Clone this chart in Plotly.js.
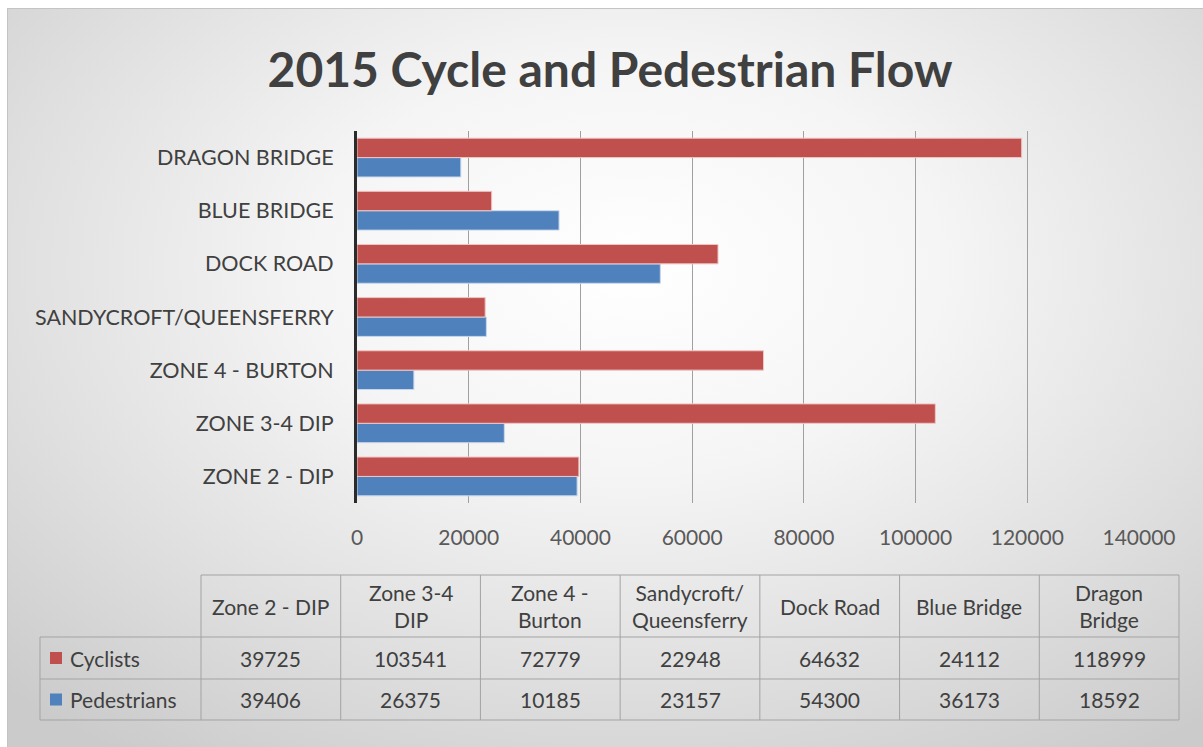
<!DOCTYPE html>
<html>
<head>
<meta charset="utf-8">
<script src="https://cdn.plot.ly/plotly-3.0.1.min.js"></script>
<style>
  html, body { margin:0; padding:0; background:#ffffff; }
  #frame { position:absolute; left:7px; top:8px; width:1196px; height:739px;
    background: radial-gradient(ellipse 75% 80% at 52% 35%, #ffffff 0%, #f5f5f5 35%, #dfdfdf 70%, #cbcbcb 100%);
    border-top:1px solid #c4c4c4; border-left:1px solid #c4c4c4; box-sizing:border-box; }
  #chart { position:absolute; left:0; top:0; width:1203px; height:747px; }
</style>
</head>
<body>
<div id="frame"></div>
<div id="chart"></div>
<script>
// ---- data ----
const categories = ["ZONE 2 - DIP", "ZONE 3-4 DIP", "ZONE 4 - BURTON", "SANDYCROFT/QUEENSFERRY", "DOCK ROAD", "BLUE BRIDGE", "DRAGON BRIDGE"];
const tableHeaders = ["Zone 2 - DIP", "Zone 3-4<br>DIP", "Zone 4 -<br>Burton", "Sandycroft/<br>Queensferry", "Dock Road", "Blue Bridge", "Dragon<br>Bridge"];
const seriesNames = ["Cyclists", "Pedestrians"];
const cyclists = [39725, 103541, 72779, 22948, 64632, 24112, 118999];
const pedestrians = [39406, 26375, 10185, 23157, 54300, 36173, 18592];
const xTicks = [0, 20000, 40000, 60000, 80000, 100000, 120000, 140000];

// ---- style ----
const W = 1203, H = 747;
const RED = "#c0504d", BLUE = "#4f81bd";
const FONT = "Lato, 'Open Sans', sans-serif";
const px = x => x / W;
const py = y => 1 - y / H;

const traces = [
  { type: "bar", orientation: "h", name: seriesNames[1], y: categories, x: pedestrians,
    marker: { color: BLUE, line: { color: "#c9d8ec", width: 1 } }, hoverinfo: "x+y" },
  { type: "bar", orientation: "h", name: seriesNames[0], y: categories, x: cyclists,
    marker: { color: RED, line: { color: "#efc7c6", width: 1 } }, hoverinfo: "x+y" }
];

// table geometry
const tX0 = 201, tX1 = 1179, legX0 = 40;
const yHeadTop = 575, yRow1 = 637, yRow2 = 679, yBot = 720;
const colW = (tX1 - tX0) / tableHeaders.length;
const lineStyle = { color: "#a3a3a3", width: 1 };

const shapes = [];
shapes.push({ type: "line", xref: "paper", yref: "paper", x0: px(tX0), x1: px(tX1), y0: py(yHeadTop), y1: py(yHeadTop), line: lineStyle });
[yRow1, yRow2, yBot].forEach(y => shapes.push({ type: "line", xref: "paper", yref: "paper", x0: px(legX0), x1: px(tX1), y0: py(y), y1: py(y), line: lineStyle }));
for (let i = 0; i <= tableHeaders.length; i++) {
  const x = tX0 + i * colW;
  shapes.push({ type: "line", xref: "paper", yref: "paper", x0: px(x), x1: px(x), y0: py(yHeadTop), y1: py(yBot), line: lineStyle });
}
shapes.push({ type: "line", xref: "paper", yref: "paper", x0: px(legX0), x1: px(legX0), y0: py(yRow1), y1: py(yBot), line: lineStyle });
const keyColors = [RED, BLUE];
const rowCenters = [(yRow1 + yRow2) / 2, (yRow2 + yBot) / 2];
keyColors.forEach((c, i) => {
  shapes.push({ type: "rect", xref: "paper", yref: "paper", x0: px(50), x1: px(62), y0: py(rowCenters[i] - 6), y1: py(rowCenters[i] + 6), fillcolor: c, line: { width: 0 } });
});

const annotations = [];
const tFont = { family: FONT, size: 21, color: "#404040" };
tableHeaders.forEach((h, i) => {
  annotations.push({ xref: "paper", yref: "paper", x: px(tX0 + (i + 0.5) * colW), y: py((yHeadTop + yRow1) / 2),
    text: h, showarrow: false, xanchor: "center", yanchor: "middle", font: tFont });
});
[cyclists, pedestrians].forEach((arr, r) => {
  annotations.push({ xref: "paper", yref: "paper", x: px(68), y: py(rowCenters[r]), text: seriesNames[r],
    showarrow: false, xanchor: "left", yanchor: "middle", font: tFont });
  arr.forEach((v, i) => {
    annotations.push({ xref: "paper", yref: "paper", x: px(tX0 + (i + 0.5) * colW), y: py(rowCenters[r]),
      text: String(v), showarrow: false, xanchor: "center", yanchor: "middle", font: tFont });
  });
});

const layout = {
  width: W, height: H,
  margin: { l: 0, r: 0, t: 0, b: 0 },
  paper_bgcolor: "rgba(0,0,0,0)", plot_bgcolor: "rgba(0,0,0,0)",
  title: { text: "<b>2015 Cycle and Pedestrian Flow</b>", x: px(610), y: py(70), xanchor: "center", yanchor: "middle",
    xref: "paper", yref: "paper", font: { family: FONT, size: 48, color: "#404040" } },
  barmode: "group", bargap: 0.27, bargroupgap: 0,
  showlegend: false,
  xaxis: { domain: [px(357), px(1139)], range: [0, 140000], tickvals: xTicks, ticktext: xTicks.map(String),
    showgrid: true, gridcolor: "#a0a0a0", gridwidth: 1, zeroline: false, showline: false,
    tickfont: { family: FONT, size: 21, color: "#595959" }, ticklabelstandoff: 20, fixedrange: true },
  yaxis: { domain: [py(503), py(131)], type: "category", showgrid: false, zeroline: false,
    showline: true, linecolor: "#2b2b2b", linewidth: 3,
    tickfont: { family: FONT, size: 21.5, color: "#404040" }, ticklabelstandoff: 16, fixedrange: true },
  shapes: shapes, annotations: annotations
};

Plotly.newPlot("chart", traces, layout, { displayModeBar: false, staticPlot: true });
</script>
</body>
</html>
